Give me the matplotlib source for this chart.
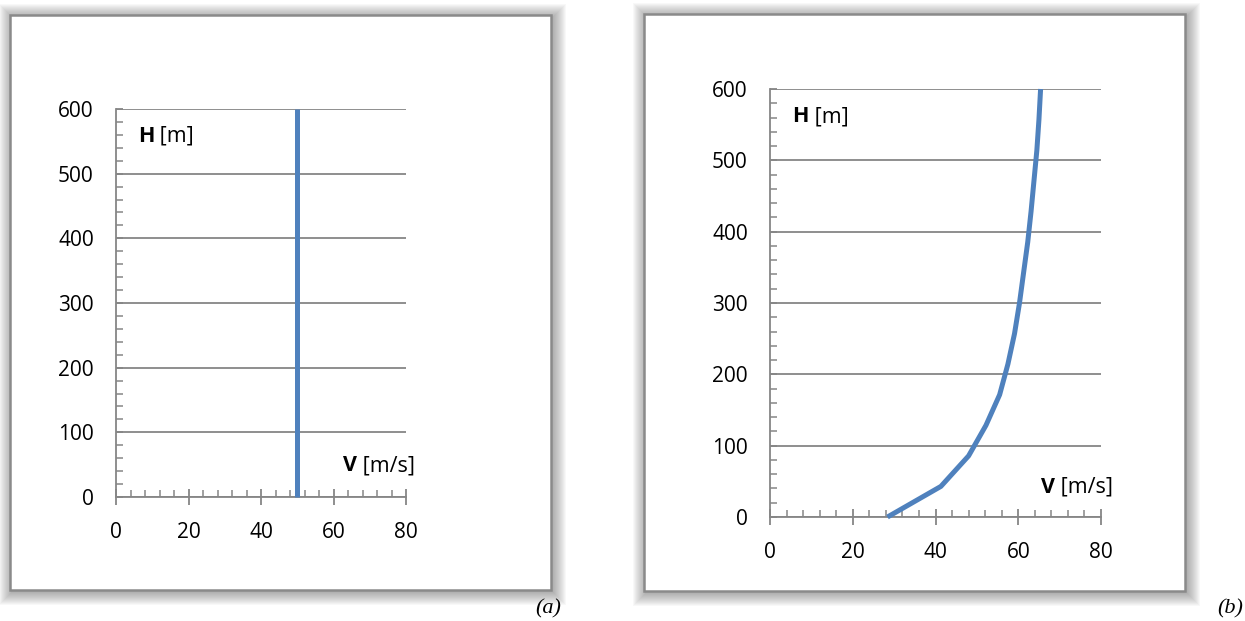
import numpy as np
import matplotlib
matplotlib.use("Agg")
import matplotlib.pyplot as plt
from matplotlib.patches import Rectangle
from matplotlib.ticker import MultipleLocator

plt.rcParams['font.family'] = ['Open Sans', 'DejaVu Sans']

# panel (a): uniform velocity profile
h_a = [0, 600]
v_a = [50, 50]

# panel (b): velocity growing with height
h_b = [0, 42.9, 85.7, 128.6, 171.4, 214.3, 257.1, 300, 342.9, 385.7,
       428.6, 471.4, 514.3, 557.1, 600]
v_b = [28.4, 41.3, 48.0, 52.2, 55.5, 57.5, 59.1, 60.3, 61.3, 62.3,
       63.1, 63.8, 64.5, 65.0, 65.4]

x_ticks = [0, 20, 40, 60, 80]
y_ticks = [0, 100, 200, 300, 400, 500, 600]

W, H = 1245, 621
fig = plt.figure(figsize=(W / 100, H / 100), dpi=100)
fig.patch.set_facecolor('white')

grey = '#868686'
blue = '#4F81BD'


def frame(x0, y0, x1, y1):
    # soft shadow then the grey border, in pixel coords (top-down)
    for k in range(13, 0, -1):
        fig.patches.append(Rectangle(((x0 - k + 2) / W, 1 - (y1 + k + 2) / H),
                                     (x1 - x0 + 2 * k) / W, (y1 - y0 + 2 * k) / H,
                                     transform=fig.transFigure, facecolor='#505050',
                                     edgecolor='none', alpha=0.04, zorder=0))
    fig.patches.append(Rectangle((x0 / W, 1 - y1 / H), (x1 - x0) / W, (y1 - y0) / H,
                                 transform=fig.transFigure, facecolor='white',
                                 edgecolor='#8a8a8a', lw=1.8, zorder=1))


def panel(px0, py0, px1, py1, v, h, hpos, vpos):
    ax = fig.add_axes([px0 / W, 1 - py1 / H, (px1 - px0) / W, (py1 - py0) / H])
    ax.set_zorder(2)
    ax.patch.set_alpha(0)
    ax.set_xlim(0, 80)
    ax.set_ylim(0, 600)
    ax.set_xticks(x_ticks)
    ax.set_yticks(y_ticks)
    ax.xaxis.set_minor_locator(MultipleLocator(4))
    ax.yaxis.set_minor_locator(MultipleLocator(20))
    for s in ['top', 'right']:
        ax.spines[s].set_visible(False)
    for s in ['left', 'bottom']:
        ax.spines[s].set_color(grey)
        ax.spines[s].set_linewidth(1.3)
    ax.grid(axis='y', color=grey, lw=1.3)
    ax.set_axisbelow(True)
    ax.tick_params(axis='x', which='major', direction='inout', length=12, width=1.3,
                   color=grey, labelsize=15, pad=12)
    ax.tick_params(axis='x', which='minor', direction='in', length=5, width=1.1, color=grey)
    ax.tick_params(axis='y', which='major', direction='in', length=5, width=1.3,
                   color=grey, labelsize=15, pad=16)
    ax.tick_params(axis='y', which='minor', direction='in', length=5, width=1.1, color=grey)
    ax.plot(v, h, color=blue, lw=3.6, clip_on=False, solid_capstyle='butt', zorder=3)

    t = ax.text(hpos[0], hpos[1], 'H', fontsize=15.5, fontweight='bold', va='center')
    ax.annotate(' [m]', xy=(1, 0.5), xycoords=t, fontsize=15.5, va='center')
    t = ax.text(vpos[0], vpos[1], 'V', fontsize=15.5, fontweight='bold', va='center')
    ax.annotate(' [m/s]', xy=(1, 0.5), xycoords=t, fontsize=15.5, va='center')
    return ax


frame(10, 15, 551, 590)
frame(644, 14, 1185, 591)

panel(116, 109, 406, 497, v_a, h_a, (6.0, 558), (62.5, 48))
panel(770, 89, 1101, 517, v_b, h_b, (5.4, 561), (65.6, 42))

fig.text(561 / W, 1 - 609 / H, '(a)', family='Liberation Serif', style='italic',
         fontsize=16, ha='right', va='center')
fig.text(1243 / W, 1 - 609 / H, '(b)', family='Liberation Serif', style='italic',
         fontsize=16, ha='right', va='center')

fig.savefig('out.png', dpi=100)
